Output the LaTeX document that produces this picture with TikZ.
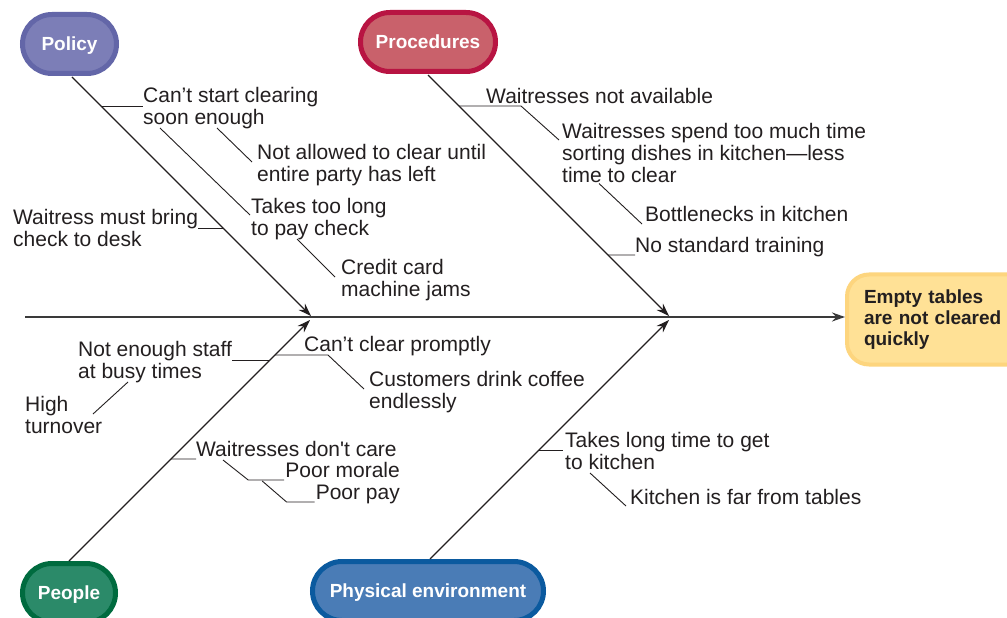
\documentclass[tikz,border=0pt]{standalone}
\usepackage{fontspec}
\setmainfont{Liberation Sans}
\usetikzlibrary{arrows.meta,calc}
\definecolor{ink}{HTML}{231F20}
\definecolor{spinec}{HTML}{3A3A3A}
\definecolor{policyFill}{HTML}{7C7EB7}
\definecolor{policyLine}{HTML}{6366A8}
\definecolor{procFill}{HTML}{C9616B}
\definecolor{procLine}{HTML}{B81442}
\definecolor{peopleFill}{HTML}{2B8A69}
\definecolor{peopleLine}{HTML}{006B3F}
\definecolor{physFill}{HTML}{4A7CB6}
\definecolor{physLine}{HTML}{0B5A9F}
\definecolor{effFill}{HTML}{FFE196}
\definecolor{effLine}{HTML}{FDD57E}
\begin{document}
\begin{tikzpicture}[x=1bp,y=-1bp,
  cat/.style={rounded corners=29.5bp, line width=5bp, minimum height=59bp, inner sep=0pt,
    text height=13.5bp, text depth=0.5bp,
    font=\fontsize{19bp}{21bp}\selectfont\bfseries, text=white},
  txt/.style={anchor=base west, align=left, inner sep=0pt,
    font=\fontsize{21bp}{22bp}\selectfont, text=ink},
  bone/.style={line width=1.1bp, draw=ink},
  sub/.style={line width=0.9bp, draw=ink},
  arr/.style={-{Stealth[length=13bp,width=9bp]}}]
\clip (0,0) rectangle (1007,618);
\fill[white] (0,0) rectangle (1007,618);

% category nodes
\node[cat, draw=policyLine, fill=policyFill, minimum width=94bp] (policy) at (69.5,44) {Policy};
\node[cat, draw=procLine, fill=procFill, minimum width=135bp] (proc) at (428,42) {Procedures};
\node[cat, draw=peopleLine, fill=peopleFill, minimum width=93bp] (people) at (69,593) {People};
\node[cat, draw=physLine, fill=physFill, minimum width=231bp] (phys) at (428,591) {Physical environment};

% effect
\node[anchor=west, draw=effLine, fill=effFill, line width=4bp, rounded corners=22bp,
  minimum height=90bp, text width=160bp, inner xsep=17bp, align=left,
  font=\fontsize{19bp}{21bp}\selectfont\bfseries, text=ink] (effect) at (845,319.5)
  {Empty tables\\are not cleared\\quickly};

% spine
\coordinate (spineStart) at (25,317);
\coordinate (spineEnd) at (845,317);
\draw[line width=1.6bp, draw=spinec, arr] (spineStart) -- (spineEnd);

% bones
\coordinate (tipPolicy) at (311,316);
\coordinate (tipProc) at (669,316);
\coordinate (tipPeople) at (310,320);
\coordinate (tipPhys) at (669,320);
\draw[bone, arr] ($(policy.south)+(2.5,1)$) -- (tipPolicy);
\draw[bone, arr] ($(proc.south)+(0,1)$) -- (tipProc);
\draw[bone, arr] (people.north) -- (tipPeople);
\draw[bone, arr] ($(phys.north)+(2,0)$) -- (tipPhys);

% Policy causes (multi-line nodes are placed by their last baseline)
\node[txt] (c1) at (143,125) {Can’t start clearing\\soon enough};
\node[txt] (c2) at (257,181.5) {Not allowed to clear until\\entire party has left};
\node[txt] (c3) at (251,235.5) {Takes too long\\to pay check};
\node[txt] (c4) at (341,296.5) {Credit card\\machine jams};
\node[txt] (c5) at (13,246.5) {Waitress must bring\\check to desk};
\coordinate (bc1) at (101,106);
\coordinate (bc5) at (223,228);
\draw[sub] (bc1) -- ($(c1.base west)+(0,-19)$);
\draw[sub] ($(c1.base west)+(17,3)$) -- ($(c3.base west)+(-1,-20.5)$);
\draw[sub] ($(c1.base west)+(74,3)$) -- ($(c2.base west)+(-5,-19.5)$);
\draw[sub] ($(c3.base west)+(46,3.5)$) -- ($(c4.base west)+(-6,-19.5)$);
\draw[sub] ($(c5.base east)+(0,-18.5)$) -- (bc5);

% Procedures causes
\node[txt] (d1) at (486,103.5) {Waitresses not available};
\node[txt] (d2) at (562,182.5) {Waitresses spend too much time\\sorting dishes in kitchen—less\\time to clear};
\node[txt] (d3) at (645,221.5) {Bottlenecks in kitchen};
\node[txt] (d4) at (635,252.5) {No standard training};
\coordinate (bd1) at (459,106);
\coordinate (bd4) at (608,255);
\draw[sub] (bd1) -- ($(d1.base west)+(35,2.5)$) -- ($(d2.base west)+(-3,-42.5)$);
\draw[sub] ($(d2.base west)+(37,1)$) -- ($(d3.base west)+(-3,2.5)$);
\draw[sub] (bd4) -- ($(d4.base west)+(0,2.5)$);

% People causes
\node[txt] (e1) at (304,351.5) {Can’t clear promptly};
\node[txt] (e2) at (369,408.5) {Customers drink coffee\\endlessly};
\node[txt] (e3) at (78,378.5) {Not enough staff\\at busy times};
\node[txt] (e4) at (25,433.5) {High\\turnover};
\node[txt] (e5) at (196,456.5) {Waitresses don\textquotesingle t care};
\node[txt, anchor=base east] (e6) at (400,477.5) {Poor morale};
\node[txt, anchor=base east] (e7) at (400,499.5) {Poor pay};
\coordinate (be1) at (275,355);
\coordinate (be3) at (270,360);
\coordinate (be5) at (171,459);
\draw[sub] (be1) -- ($(e1.base west)+(24,3.5)$) -- ($(e2.base west)+(-5,-19.5)$);
\draw[sub] ($(e3.base east)+(0,-18.5)$) -- (be3);
\draw[sub] ($(e3.base west)+(50,3.5)$) -- ($(e4.base west)+(68,-19.5)$);
\draw[sub] (be5) -- ($(e5.base west)+(0,2.5)$);
\draw[sub] ($(e5.base west)+(27,3.5)$) -- ($(e6.base west)+(-37,2.5)$) -- ($(e6.base west)+(-1,2.5)$);
\draw[sub] ($(e6.base west)+(-23,3.5)$) -- ($(e7.base west)+(-29,2.5)$) -- ($(e7.base west)+(-1,2.5)$);

% Physical environment causes
\node[txt] (f1) at (565,469.5) {Takes long time to get\\to kitchen};
\node[txt] (f2) at (630,504.5) {Kitchen is far from tables};
\coordinate (bf1) at (539,450);
\draw[sub] (bf1) -- ($(f1.base west)+(-2,-19.5)$);
\draw[sub] ($(f1.base west)+(25,3.5)$) -- ($(f2.base west)+(-4,1.5)$);
\end{tikzpicture}
\end{document}
